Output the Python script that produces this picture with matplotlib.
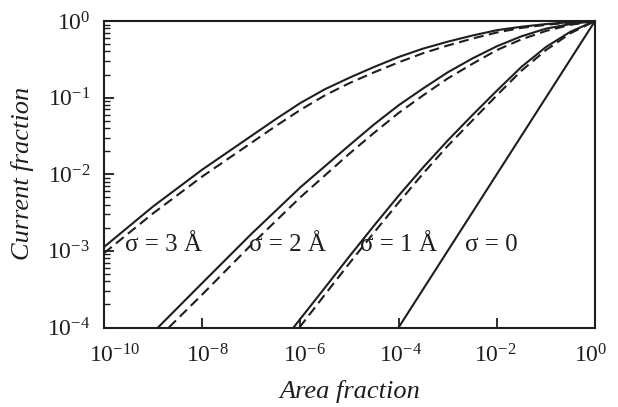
import numpy as np
import matplotlib
matplotlib.use("Agg")
import matplotlib.pyplot as plt
import matplotlib.transforms as mtransforms
from matplotlib.ticker import LogLocator, NullLocator, NullFormatter

plt.rcParams['font.family'] = ['Liberation Serif', 'DejaVu Serif']
plt.rcParams['mathtext.fontset'] = 'custom'
plt.rcParams['mathtext.rm'] = 'Liberation Serif'
plt.rcParams['mathtext.it'] = 'Liberation Serif:italic'

# values, as log10 of area fraction / current fraction
s0_x = [-4, 0]
s0_y = [-4, 0]

s1_x = [-6.14, -5.5, -5.0, -4.5, -4.0, -3.5, -3.0, -2.5, -2.0, -1.5, -1.0, -0.5, 0]
s1_y = [-4, -3.48, -3.07, -2.67, -2.28, -1.91, -1.56, -1.23, -0.91, -0.60, -0.34, -0.14, 0]
s1_dx = [-6.02, -5.5, -5.0, -4.5, -4.0, -3.5, -3.0, -2.5, -2.0, -1.5, -1.0, -0.5, 0]
s1_dy = [-4, -3.57, -3.16, -2.76, -2.37, -1.99, -1.63, -1.30, -0.97, -0.65, -0.38, -0.16, 0]

s2_x = [-8.9, -8, -7, -6, -5, -4.5, -4, -3.5, -3, -2.5, -2, -1.5, -1, -0.5, 0]
s2_y = [-4, -3.42, -2.78, -2.17, -1.62, -1.35, -1.10, -0.88, -0.67, -0.49, -0.33, -0.20, -0.10, -0.04, 0]
s2_dx = [-8.68, -8, -7, -6, -5, -4.5, -4, -3.5, -3, -2.5, -2, -1.5, -1, -0.5, 0]
s2_dy = [-4, -3.57, -2.92, -2.30, -1.73, -1.46, -1.20, -0.97, -0.75, -0.56, -0.38, -0.24, -0.13, -0.05, 0]

s3_x = [-10, -9, -8, -7, -6.5, -6, -5.5, -5, -4.5, -4, -3.5, -3, -2.5, -2, -1.5, -1, -0.5, 0]
s3_y = [-2.95, -2.42, -1.94, -1.50, -1.28, -1.07, -0.89, -0.74, -0.60, -0.47, -0.36, -0.27, -0.19, -0.12, -0.075, -0.04, -0.015, 0]
s3_dy = [-3.03, -2.51, -2.03, -1.59, -1.37, -1.16, -0.97, -0.81, -0.67, -0.54, -0.42, -0.32, -0.23, -0.15, -0.09, -0.05, -0.02, 0]

labels = ["σ = 3 Å", "σ = 2 Å", "σ = 1 Å", "σ = 0"]
label_pos = [0.043, 0.295, 0.521, 0.735]

xticks = [1e-10, 1e-8, 1e-6, 1e-4, 1e-2, 1e0]
xlabel_shift = [11, 5, 4, 1.5, -1.5, -4]  # px, as in the original typesetting

col = '#1e1e1e'
dash = (0, (4.8, 2.6))

fig = plt.figure(figsize=(6.18, 4.07), dpi=100)
ax = fig.add_axes([104 / 618, 1 - 327.5 / 407, 491 / 618, 306.5 / 407])

def p(v):
    return 10.0 ** np.array(v)

ax.plot(p(s0_x), p(s0_y), color=col, lw=1.5)
ax.plot(p(s1_x), p(s1_y), color=col, lw=1.5)
ax.plot(p(s1_dx), p(s1_dy), color=col, lw=1.5, ls=dash)
ax.plot(p(s2_x), p(s2_y), color=col, lw=1.5)
ax.plot(p(s2_dx), p(s2_dy), color=col, lw=1.5, ls=dash)
ax.plot(p(s3_x), p(s3_y), color=col, lw=1.5)
ax.plot(p(s3_x), p(s3_dy), color=col, lw=1.5, ls=dash)

ax.set_xscale('log')
ax.set_yscale('log')
ax.set_xlim(1e-10, 1)
ax.set_ylim(1e-4, 1)

ax.set_xticks(xticks)
ax.xaxis.set_minor_locator(NullLocator())
ax.yaxis.set_major_locator(LogLocator(base=10, numticks=10))
ax.yaxis.set_minor_locator(LogLocator(base=10, subs=np.arange(2, 10), numticks=10))
ax.yaxis.set_minor_formatter(NullFormatter())

ax.tick_params(which='both', direction='in', top=False, right=False, color=col,
               labelsize=17, labelcolor=col)
ax.tick_params(which='major', length=7, width=1.3)
ax.tick_params(which='minor', length=4, width=1.0)
ax.tick_params(axis='x', pad=12)
ax.tick_params(axis='y', pad=10)
for s in ax.spines.values():
    s.set_linewidth(1.5)
    s.set_color(col)

for lab, dx in zip(ax.get_xticklabels(), xlabel_shift):
    off = mtransforms.ScaledTranslation(dx / 100, 0, fig.dpi_scale_trans)
    lab.set_transform(lab.get_transform() + off)

for t, xp in zip(labels, label_pos):
    ax.text(xp, 0.25, t, transform=ax.transAxes, fontsize=18, color=col,
            ha='left', va='baseline')

fig.text(0.5655, 0.022, "Area fraction", fontsize=19, style='italic', color=col,
         ha='center', va='baseline')
fig.text(0.037, 0.575, "Current fraction", fontsize=19, style='italic', color=col,
         ha='center', va='center', rotation=90)

fig.savefig("out.png", dpi=100)
